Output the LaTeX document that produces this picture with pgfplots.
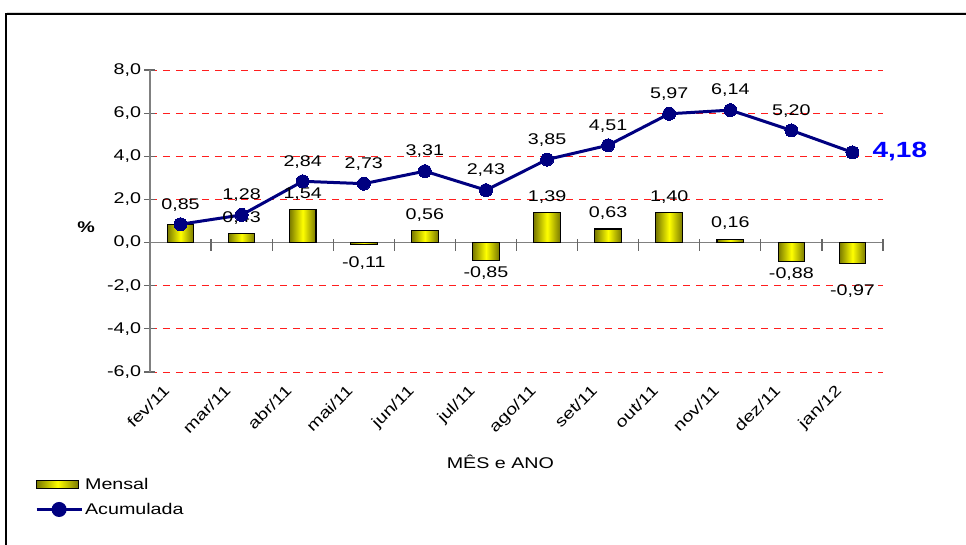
\documentclass[border=0pt]{standalone}
\usepackage{pgfplots}
\pgfplotsset{compat=1.18}
\usepackage{fontspec}
\setmainfont{Liberation Sans}[FakeStretch=1.27]
\definecolor{navyline}{RGB}{0,0,128}
\definecolor{barolive}{RGB}{120,120,0}
\definecolor{gridred}{RGB}{255,30,30}
\definecolor{axisgray}{RGB}{128,128,128}
\definecolor{labelblue}{RGB}{0,0,255}
\pgfplotsset{
  mbar/.style={ybar, bar width=26.6pt, bar shift=0pt, draw=black, line width=1.1pt,
    left color=barolive, right color=barolive, middle color=yellow, forget plot},
}
\begin{document}
\begin{tikzpicture}[font=\fontsize{15.5}{18}\selectfont]
\useasboundingbox (-150pt,-173pt) rectangle (816pt,372pt);
\draw[black!15, line width=1pt] (-143pt,359.5pt) -- (830pt,359.5pt);
\draw[line width=1.5pt] (-144pt,-180pt) -- (-144pt,358pt) -- (830pt,358pt);
\begin{axis}[
  at={(0pt,0pt)}, anchor=south west,
  scale only axis, width=733pt, height=302pt,
  xmin=-0.5, xmax=11.5, ymin=-6, ymax=8,
  clip=false,
  axis y line*=left, axis x line*=bottom,
  x axis line style={draw=none},
  y axis line style={axisgray, line width=1.5pt},
  ytick={-6,-4,...,8},
  yticklabel style={/pgf/number format/.cd, fixed, fixed zerofill, precision=1, use comma, assume math mode=true},
  tick align=center,
  major tick length=11pt,
  major y tick style={axisgray!80!black, line width=1.2pt},
  major x tick style={draw=none},
  xtick={0,...,11},
  xticklabels={fev/11,mar/11,abr/11,mai/11,jun/11,jul/11,ago/11,set/11,out/11,nov/11,dez/11,jan/12},
  x tick label style={anchor=north east, inner sep=0pt, xshift=-18pt, yshift=-6pt, rotate=45},
  ymajorgrids,
  grid style={gridred, line width=0.8pt, dash pattern=on 7pt off 6pt},
  ylabel={\bfseries\%},
  ylabel style={rotate=-90, at={(axis description cs:-0.087,0.48)}, anchor=center},
  xlabel={MÊS e ANO},
  xlabel style={at={(axis description cs:0.478,-0.298)}, anchor=center},
  legend style={at={(axis description cs:-0.157,-0.345)}, anchor=north west, draw=none, fill=none, row sep=8pt, inner sep=0pt},
  legend cell align=left,
]
\draw[axisgray, line width=1.5pt] (axis cs:-0.5,0) -- (axis cs:11.5,0);
\pgfplotsinvokeforeach{0.5,1.5,2.5,3.5,4.5,5.5,6.5,7.5,8.5,9.5,10.5,11.5}{
  \draw[axisgray!80!black, line width=1.2pt] (axis cs:#1,-0.38) -- (axis cs:#1,0.18);
}
% Mensal bars (one plot per bar so each bar gets its own shading)
\addplot[mbar, forget plot=false,
  legend image code/.code={\draw[draw=black, line width=1pt, left color=barolive, right color=barolive, middle color=yellow] (0pt,-4pt) rectangle (42pt,4pt);}]
  coordinates {(0,0.85)};
\addlegendentry{Mensal}
\addplot[mbar] coordinates {(1,0.43)};
\addplot[mbar] coordinates {(2,1.54)};
\addplot[mbar] coordinates {(3,-0.11)};
\addplot[mbar] coordinates {(4,0.56)};
\addplot[mbar] coordinates {(5,-0.85)};
\addplot[mbar] coordinates {(6,1.39)};
\addplot[mbar] coordinates {(7,0.63)};
\addplot[mbar] coordinates {(8,1.40)};
\addplot[mbar] coordinates {(9,0.16)};
\addplot[mbar] coordinates {(10,-0.88)};
\addplot[mbar] coordinates {(11,-0.97)};
% bar labels
\addplot[draw=none, mark=none, forget plot, point meta=explicit symbolic,
  nodes near coords, every node near coord/.append style={black, anchor=south, inner sep=0pt, yshift=9pt}]
  coordinates {(1,0.43) [0,43] (2,1.54) [1,54] (4,0.56) [0,56] (6,1.39) [1,39] (7,0.63) [0,63] (8,1.40) [1,40] (9,0.16) [0,16]};
\addplot[draw=none, mark=none, forget plot, point meta=explicit symbolic,
  nodes near coords, every node near coord/.append style={black, anchor=north, inner sep=0pt, yshift=-6pt}]
  coordinates {(5,-0.85) [-0,85] (10,-0.88) [-0,88]};
\addplot[draw=none, mark=none, forget plot, point meta=explicit symbolic,
  nodes near coords, every node near coord/.append style={black, anchor=north, inner sep=0pt, yshift=-12pt}]
  coordinates {(3,-0.11) [-0,11]};
\addplot[draw=none, mark=none, forget plot, point meta=explicit symbolic,
  nodes near coords, every node near coord/.append style={black, anchor=north, inner sep=0pt, yshift=-21pt}]
  coordinates {(11,-0.97) [-0,97]};
% Acumulada line
\addplot[navyline, line width=3pt, mark=*, mark size=6.5pt, mark options={fill=navyline, draw=navyline, line width=0pt},
  legend image code/.code={\draw[navyline, line width=3pt] (0pt,0pt) -- (45pt,0pt); \fill[navyline] (22.5pt,0pt) circle (6pt);}]
  coordinates {(0,0.85) (1,1.28) (2,2.84) (3,2.73) (4,3.31) (5,2.43) (6,3.85) (7,4.51) (8,5.97) (9,6.14) (10,5.20) (11,4.18)};
\addlegendentry{Acumulada}
\addplot[draw=none, mark=none, forget plot, point meta=explicit symbolic,
  nodes near coords, every node near coord/.append style={black, anchor=south, inner sep=0pt, yshift=13pt}]
  coordinates {(0,0.85) [0,85] (1,1.28) [1,28] (2,2.84) [2,84] (3,2.73) [2,73] (4,3.31) [3,31] (5,2.43) [2,43] (6,3.85) [3,85] (7,4.51) [4,51] (8,5.97) [5,97] (9,6.14) [6,14] (10,5.20) [5,20]};
\node[anchor=west, text=labelblue, inner sep=0pt, xshift=20pt, yshift=1pt, font=\fontsize{22}{26}\selectfont\bfseries] at (axis cs:11,4.18) {4,18};
\end{axis}
\end{tikzpicture}
\end{document}
